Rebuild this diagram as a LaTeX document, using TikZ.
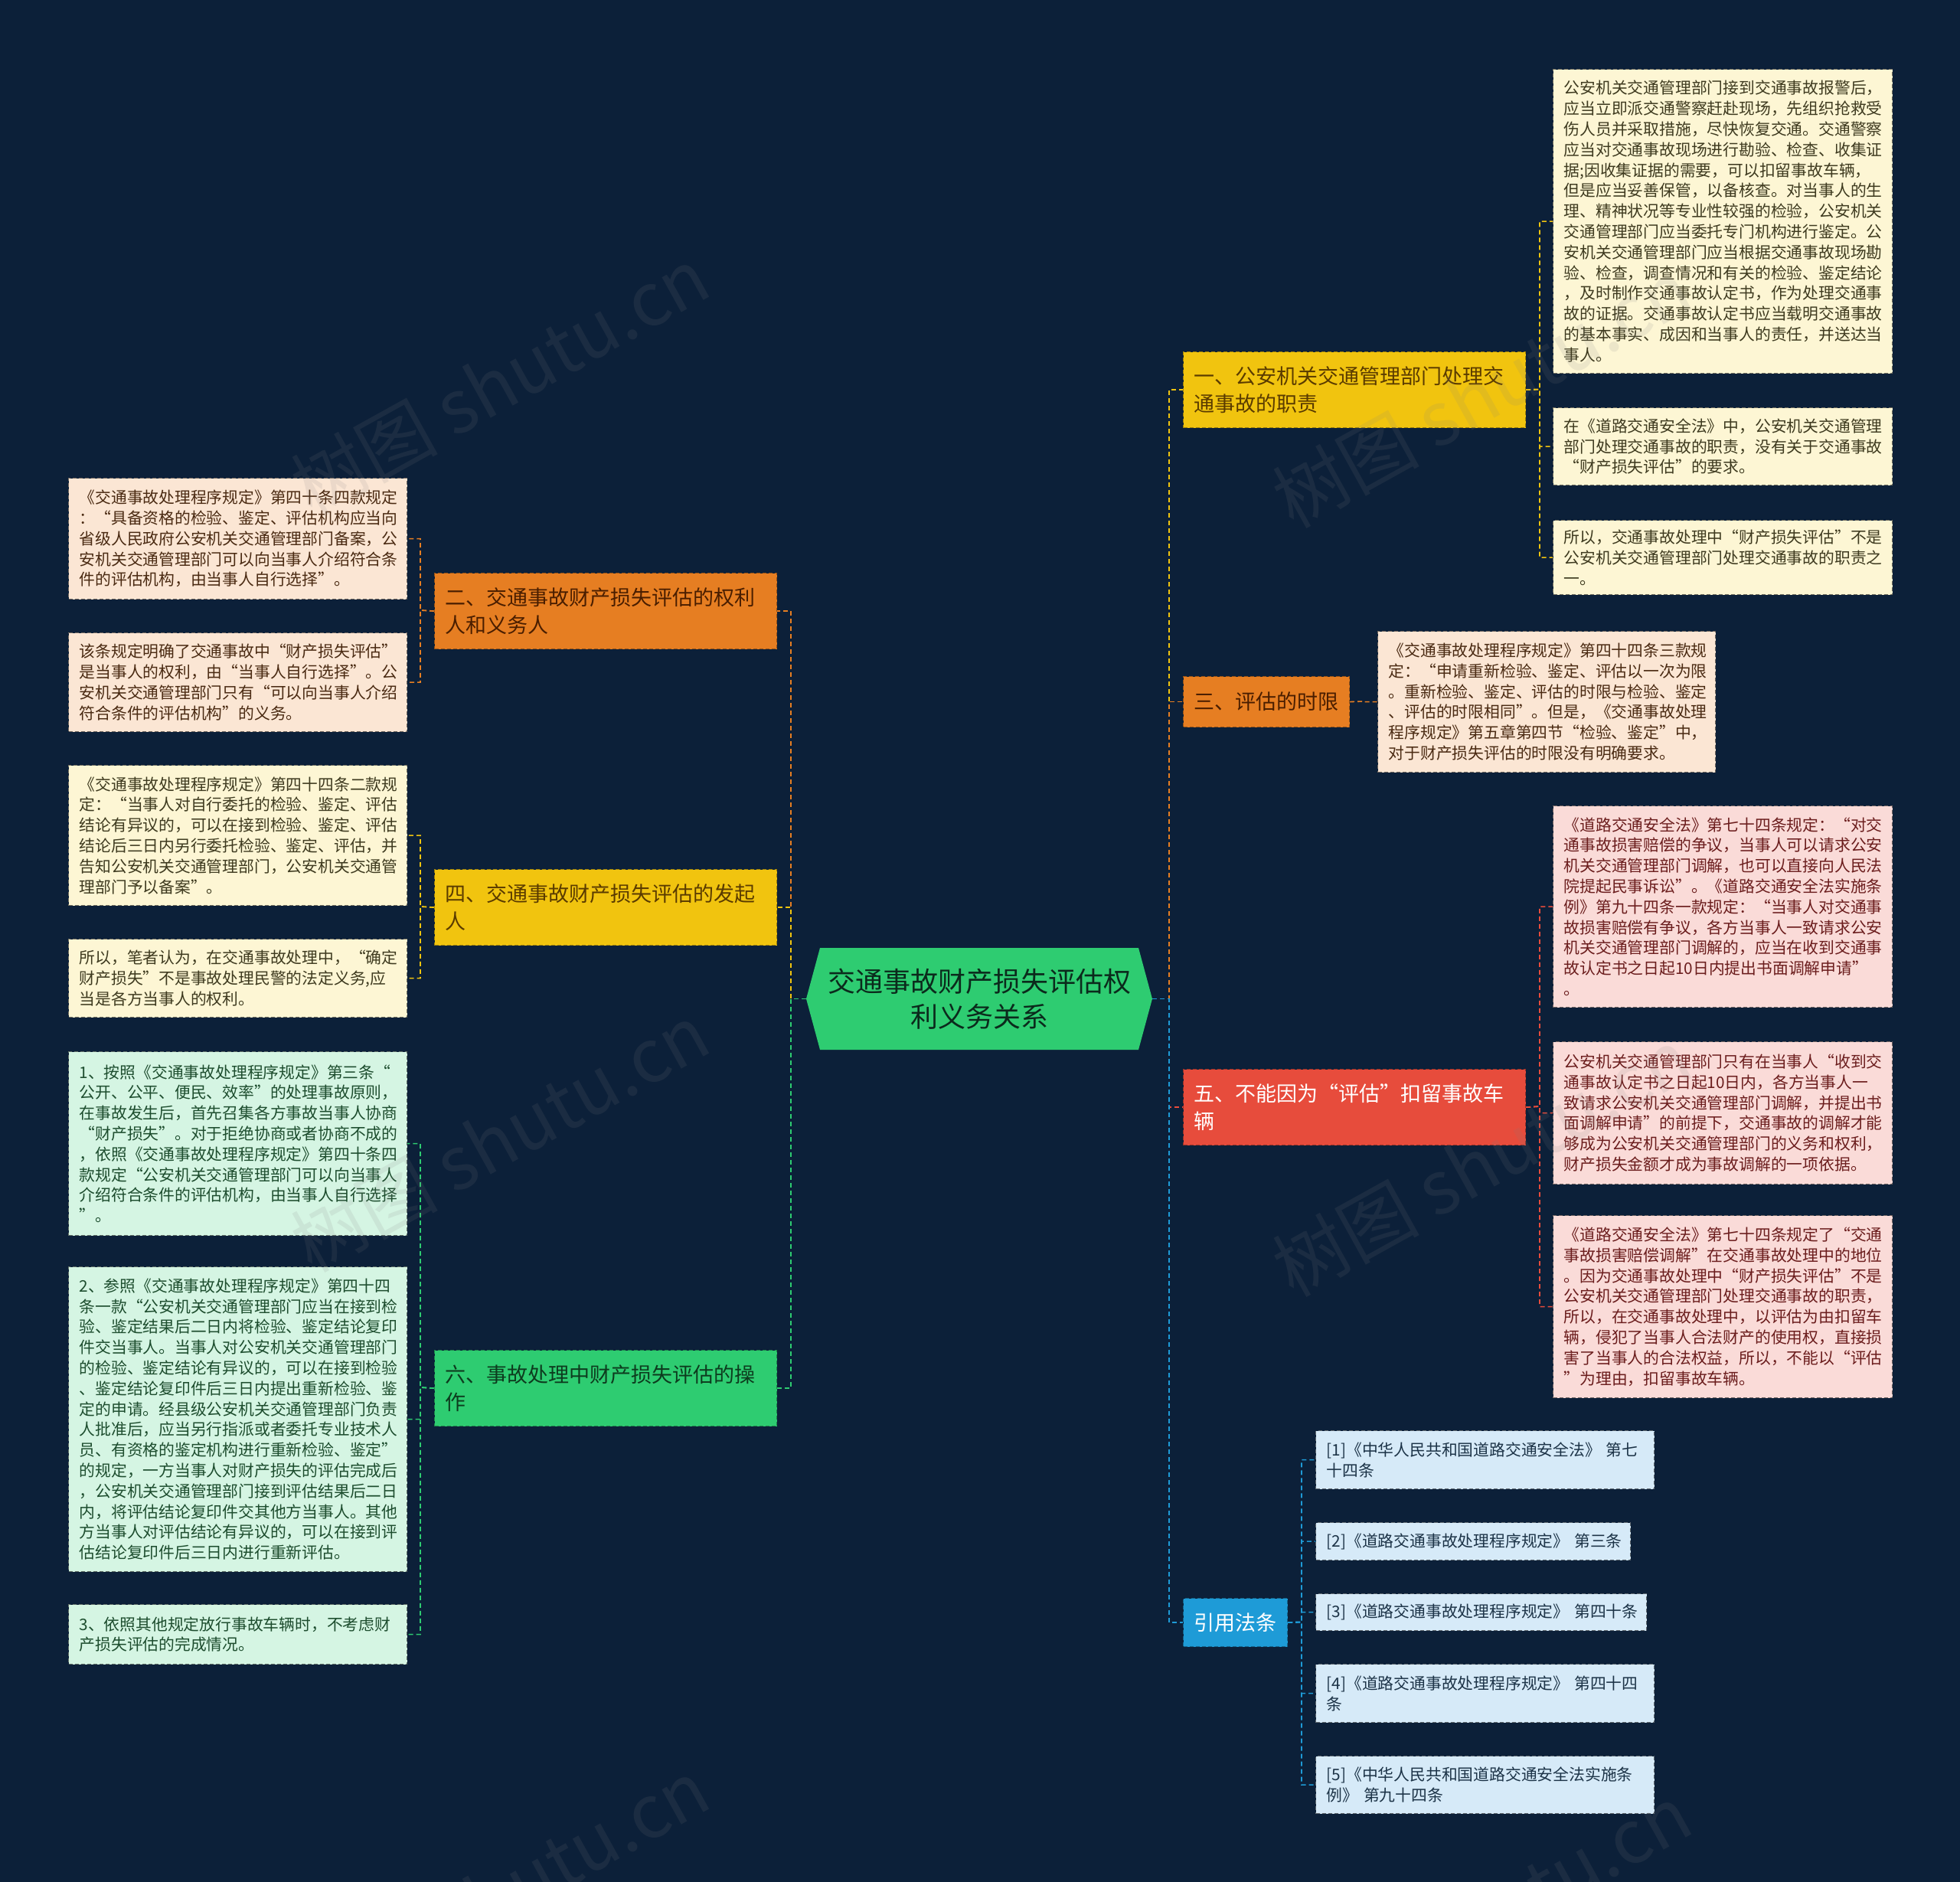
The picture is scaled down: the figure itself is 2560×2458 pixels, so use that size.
\documentclass[tikz,border=0pt]{standalone}
\usepackage{fontspec}
\setmainfont{Noto Sans CJK SC}
\definecolor{bg}{HTML}{0C2039}
\definecolor{cyel}{HTML}{F1C40F}
\definecolor{cora}{HTML}{E67E22}
\definecolor{cred}{HTML}{E74C3C}
\definecolor{cgrn}{HTML}{2ECC71}
\definecolor{cblu}{HTML}{1E9BD7}
\definecolor{lyel}{HTML}{FDF6D4}
\definecolor{lpea}{HTML}{FBE6D4}
\definecolor{lpnk}{HTML}{FADBD8}
\definecolor{lgrn}{HTML}{D5F5E3}
\definecolor{lblu}{HTML}{D6EAF8}
\definecolor{tyel}{HTML}{3E3A1F}
\definecolor{tpea}{HTML}{4A2A12}
\definecolor{tpnk}{HTML}{6B1D1D}
\definecolor{tgrn}{HTML}{1D4D2E}
\definecolor{tblu}{HTML}{1C3347}
\definecolor{tctr}{HTML}{0B2A1C}
\definecolor{tbyel}{HTML}{5A3B00}
\definecolor{tbora}{HTML}{4A1E00}
\definecolor{tbgrn}{HTML}{0D3B1E}
\begin{document}
\begin{tikzpicture}[x=0.5pt,y=-0.5pt,
  leafbase/.style={anchor=north west, align=left, inner xsep=7pt, inner ysep=4pt,
    font=\fontsize{10.4}{13.4}\selectfont, line width=0.6pt, dash pattern=on 2.5pt off 1.5pt},
  leafc/.style 2 args={fill=#1, draw=#1!45!black, text=#2},
  branchbase/.style={anchor=north west, align=left, inner xsep=7pt, inner ysep=3pt,
    font=\fontsize{13.5}{18}\selectfont, line width=0.6pt, dash pattern=on 2.5pt off 1.5pt},
  branchc/.style 2 args={fill=#1, draw=#1!65!black, text=#2},
  conn/.style={draw=#1, line width=0.8pt, dash pattern=on 3pt off 2pt},
  wmark/.style={rotate=29, font=\fontsize{48}{48}\selectfont, text=gray, opacity=0.13}
]
\useasboundingbox (0,0) rectangle (2560,2458);
\fill[bg] (0,0) rectangle (2560,2458);

% central topic
\fill[cgrn] (1053,1304.5) -- (1071,1238) -- (1487,1238) -- (1505,1304.5) -- (1487,1371) -- (1071,1371) -- cycle;
\node[minimum width=226pt, minimum height=66.5pt, align=center, text=tctr,
  font=\fontsize{18}{23}\selectfont] (c) at (1279,1304.5) {交通事故财产损失评估权\\利义务关系};

\coordinate (lj) at (1033,1304.5);
\coordinate (rj) at (1527,1304.5);

% right branches
\node[branchbase, branchc={cyel}{tbyel}, text width=209.5pt, minimum height=49.5pt] (b1) at (1545,459)
  {一、公安机关交通管理部门处理交\\通事故的职责};
\node[branchbase, branchc={cora}{tbora}, minimum width=108.5pt, minimum height=33pt] (b3) at (1545,883)
  {三、评估的时限};
\node[branchbase, branchc={cred}{white}, text width=209.5pt, minimum height=49.5pt] (b5) at (1545,1396)
  {五、不能因为“评估”扣留事故车\\辆};
\node[branchbase, branchc={cblu}{white}, minimum width=67.5pt, minimum height=31.5pt] (b7) at (1545,2087)
  {引用法条};

% left branches
\node[branchbase, branchc={cora}{tbora}, text width=209.5pt, minimum height=49.5pt] (b2) at (567,748)
  {二、交通事故财产损失评估的权利\\人和义务人};
\node[branchbase, branchc={cyel}{tbyel}, text width=209.5pt, minimum height=49.5pt] (b4) at (567,1135)
  {四、交通事故财产损失评估的发起\\人};
\node[branchbase, branchc={cgrn}{tbgrn}, text width=209.5pt, minimum height=49.5pt] (b6) at (567,1763)
  {六、事故处理中财产损失评估的操\\作};

% leaves of 一
\node[leafbase, leafc={lyel}{tyel}, text width=207.5pt, minimum height=198.5pt] (r1) at (2028,90)
  {公安机关交通管理部门接到交通事故报警后，\\
   应当立即派交通警察赶赴现场，先组织抢救受\\
   伤人员并采取措施，尽快恢复交通。交通警察\\
   应当对交通事故现场进行勘验、检查、收集证\\
   据;因收集证据的需要，可以扣留事故车辆，\\
   但是应当妥善保管，以备核查。对当事人的生\\
   理、精神状况等专业性较强的检验，公安机关\\
   交通管理部门应当委托专门机构进行鉴定。公\\
   安机关交通管理部门应当根据交通事故现场勘\\
   验、检查，调查情况和有关的检验、鉴定结论\\
   ，及时制作交通事故认定书，作为处理交通事\\
   故的证据。交通事故认定书应当载明交通事故\\
   的基本事实、成因和当事人的责任，并送达当\\
   事人。};
\node[leafbase, leafc={lyel}{tyel}, text width=207.5pt, minimum height=50.5pt] (r2) at (2028,532)
  {在《道路交通安全法》中，公安机关交通管理\\
   部门处理交通事故的职责，没有关于交通事故\\
   “财产损失评估”的要求。};
\node[leafbase, leafc={lyel}{tyel}, text width=207.5pt, minimum height=48.5pt] (r3) at (2028,679)
  {所以，交通事故处理中“财产损失评估”不是\\
   公安机关交通管理部门处理交通事故的职责之\\
   一。};

% leaf of 三
\node[leafbase, leafc={lpea}{tpea}, text width=206.5pt, minimum height=92pt] (t1) at (1799,824)
  {《交通事故处理程序规定》第四十四条三款规\\
   定：“申请重新检验、鉴定、评估以一次为限\\
   。重新检验、鉴定、评估的时限与检验、鉴定\\
   、评估的时限相同”。但是，《交通事故处理\\
   程序规定》第五章第四节“检验、鉴定”中，\\
   对于财产损失评估的时限没有明确要求。};

% leaves of 五
\node[leafbase, leafc={lpnk}{tpnk}, text width=207.5pt, minimum height=131.5pt] (f1) at (2028,1052)
  {《道路交通安全法》第七十四条规定：“对交\\
   通事故损害赔偿的争议，当事人可以请求公安\\
   机关交通管理部门调解，也可以直接向人民法\\
   院提起民事诉讼”。《道路交通安全法实施条\\
   例》第九十四条一款规定：“当事人对交通事\\
   故损害赔偿有争议，各方当事人一致请求公安\\
   机关交通管理部门调解的，应当在收到交通事\\
   故认定书之日起10日内提出书面调解申请”\\
   。};
\node[leafbase, leafc={lpnk}{tpnk}, text width=207.5pt, minimum height=93pt] (f2) at (2028,1360)
  {公安机关交通管理部门只有在当事人“收到交\\
   通事故认定书之日起10日内，各方当事人一\\
   致请求公安机关交通管理部门调解，并提出书\\
   面调解申请”的前提下，交通事故的调解才能\\
   够成为公安机关交通管理部门的义务和权利，\\
   财产损失金额才成为事故调解的一项依据。};
\node[leafbase, leafc={lpnk}{tpnk}, text width=207.5pt, minimum height=119pt] (f3) at (2028,1587)
  {《道路交通安全法》第七十四条规定了“交通\\
   事故损害赔偿调解”在交通事故处理中的地位\\
   。因为交通事故处理中“财产损失评估”不是\\
   公安机关交通管理部门处理交通事故的职责，\\
   所以，在交通事故处理中，以评估为由扣留车\\
   辆，侵犯了当事人合法财产的使用权，直接损\\
   害了当事人的合法权益，所以，不能以“评估\\
   ”为理由，扣留事故车辆。};

% references
\node[leafbase, leafc={lblu}{tblu}, text width=207pt, minimum height=38pt] (q1) at (1718,1868)
  {[1]《中华人民共和国道路交通安全法》~第七\\十四条};
\node[leafbase, leafc={lblu}{tblu}, text width=191.5pt, minimum height=24.5pt] (q2) at (1718,1988)
  {[2]《道路交通事故处理程序规定》~第三条};
\node[leafbase, leafc={lblu}{tblu}, text width=202pt, minimum height=24pt] (q3) at (1718,2081)
  {[3]《道路交通事故处理程序规定》~第四十条};
\node[leafbase, leafc={lblu}{tblu}, text width=207pt, minimum height=38pt] (q4) at (1718,2173)
  {[4]《道路交通事故处理程序规定》~第四十四\\条};
\node[leafbase, leafc={lblu}{tblu}, text width=207pt, minimum height=37.5pt] (q5) at (1718,2293)
  {[5]《中华人民共和国道路交通安全法实施条\\例》~第九十四条};

% leaves of 二
\node[leafbase, leafc={lpea}{tpea}, text width=207pt, minimum height=79pt] (l1) at (89,624)
  {《交通事故处理程序规定》第四十条四款规定\\
   ：“具备资格的检验、鉴定、评估机构应当向\\
   省级人民政府公安机关交通管理部门备案，公\\
   安机关交通管理部门可以向当事人介绍符合条\\
   件的评估机构，由当事人自行选择”。};
\node[leafbase, leafc={lpea}{tpea}, text width=207pt, minimum height=64.5pt] (l2) at (89,826)
  {该条规定明确了交通事故中“财产损失评估”\\
   是当事人的权利，由“当事人自行选择”。公\\
   安机关交通管理部门只有“可以向当事人介绍\\
   符合条件的评估机构”的义务。};

% leaves of 四
\node[leafbase, leafc={lyel}{tyel}, text width=207pt, minimum height=91.5pt] (l3) at (89,999)
  {《交通事故处理程序规定》第四十四条二款规\\
   定：“当事人对自行委托的检验、鉴定、评估\\
   结论有异议的，可以在接到检验、鉴定、评估\\
   结论后三日内另行委托检验、鉴定、评估，并\\
   告知公安机关交通管理部门，公安机关交通管\\
   理部门予以备案”。};
\node[leafbase, leafc={lyel}{tyel}, text width=207pt, minimum height=51pt] (l4) at (89,1226)
  {所以，笔者认为，在交通事故处理中，“确定\\
   财产损失”不是事故处理民警的法定义务,应\\
   当是各方当事人的权利。};

% leaves of 六
\node[leafbase, leafc={lgrn}{tgrn}, text width=207pt, minimum height=120pt] (l5) at (89,1373)
  {1、按照《交通事故处理程序规定》第三条“\\
   公开、公平、便民、效率”的处理事故原则，\\
   在事故发生后，首先召集各方事故当事人协商\\
   “财产损失”。对于拒绝协商或者协商不成的\\
   ，依照《交通事故处理程序规定》第四十条四\\
   款规定“公安机关交通管理部门可以向当事人\\
   介绍符合条件的评估机构，由当事人自行选择\\
   ”。};
\node[leafbase, leafc={lgrn}{tgrn}, text width=207pt, minimum height=199pt] (l6) at (89,1654)
  {2、参照《交通事故处理程序规定》第四十四\\
   条一款“公安机关交通管理部门应当在接到检\\
   验、鉴定结果后二日内将检验、鉴定结论复印\\
   件交当事人。当事人对公安机关交通管理部门\\
   的检验、鉴定结论有异议的，可以在接到检验\\
   、鉴定结论复印件后三日内提出重新检验、鉴\\
   定的申请。经县级公安机关交通管理部门负责\\
   人批准后，应当另行指派或者委托专业技术人\\
   员、有资格的鉴定机构进行重新检验、鉴定”\\
   的规定，一方当事人对财产损失的评估完成后\\
   ，公安机关交通管理部门接到评估结果后二日\\
   内，将评估结论复印件交其他方当事人。其他\\
   方当事人对评估结论有异议的，可以在接到评\\
   估结论复印件后三日内进行重新评估。};
\node[leafbase, leafc={lgrn}{tgrn}, text width=207pt, minimum height=39pt] (l7) at (89,2095)
  {3、依照其他规定放行事故车辆时，不考虑财\\
   产损失评估的完成情况。};

% junctions
\coordinate (j1) at (2011,508.5);
\coordinate (j3) at (1780,916);
\coordinate (j5) at (2011,1445);
\coordinate (j7) at (1700,2118.5);
\coordinate (j2) at (549,797);
\coordinate (j4) at (549,1184);
\coordinate (j6) at (549,1812);

% main connectors
\draw[conn=cora] (c.west) -- (lj) |- (b2.east);
\draw[conn=cyel] (c.west) -- (lj) |- (b4.east);
\draw[conn=cgrn] (c.west) -- (lj) |- (b6.east);
\draw[conn=cyel] (c.east) -- (rj) |- (b1.west);
\draw[conn=cora] (c.east) -- (rj) |- (b3.west);
\draw[conn=cred] (c.east) -- (rj) |- (b5.west);
\draw[conn=cblu] (c.east) -- (rj) |- (b7.west);

% leaf connectors
\foreach \l in {r1,r2,r3} \draw[conn=cyel] (b1.east) -- (j1) |- (\l.west);
\draw[conn=cora] (b3.east) -- (j3) |- (t1.west);
\foreach \l in {f1,f2,f3} \draw[conn=cred] (b5.east) -- (j5) |- (\l.west);
\foreach \l in {q1,q2,q3,q4,q5} \draw[conn=cblu] (b7.east) -- (j7) |- (\l.west);
\foreach \l in {l1,l2} \draw[conn=cora] (b2.west) -- (j2) |- (\l.east);
\foreach \l in {l3,l4} \draw[conn=cyel] (b4.west) -- (j4) |- (\l.east);
\foreach \l in {l5,l6,l7} \draw[conn=cgrn] (b6.west) -- (j6) |- (\l.east);

% watermarks
\node[wmark] (w1) at (653,498) {树图 shutu.cn};
\node[wmark] (w2) at (1935,514) {树图 shutu.cn};
\node[wmark] (w3) at (653,1486) {树图 shutu.cn};
\node[wmark] (w4) at (1935,1518) {树图 shutu.cn};
\node[wmark] (w5) at (653,2473) {树图 shutu.cn};
\node[wmark] (w6) at (1935,2506) {树图 shutu.cn};
\end{tikzpicture}
\end{document}
